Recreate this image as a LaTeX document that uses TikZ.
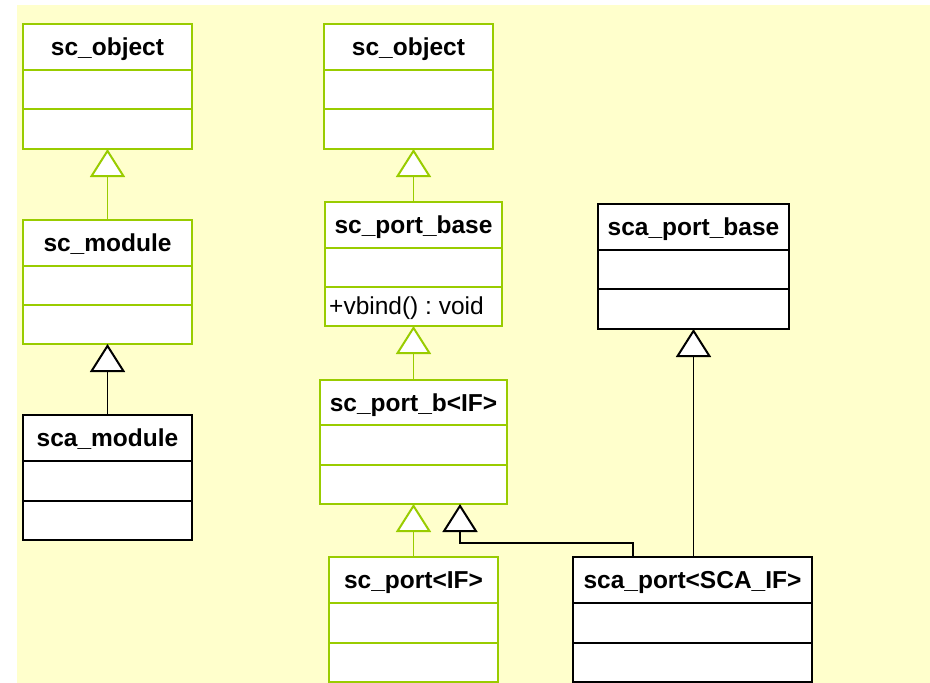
\documentclass[tikz,border=0pt]{standalone}
\usepackage{fontspec}
\setmainfont{Liberation Sans}
\usetikzlibrary{arrows.meta,calc}

\definecolor{umlgreen}{RGB}{153,204,0}
\definecolor{paper}{RGB}{255,255,204}

\tikzset{
  classbox/.style={rectangle, fill=white, line width=2pt, inner sep=0pt, outer sep=0pt},
  classname/.style={inner sep=0pt, anchor=base, font=\fontsize{24.5}{28}\selectfont\bfseries},
  member/.style={inner sep=0pt, anchor=base west, font=\fontsize{24.5}{28}\selectfont\frenchspacing},
  inherit/.style={line width=1.5pt, -{Triangle[length=28pt, width=35pt, fill=white, line width=2pt]}},
  greenlink/.style={inherit, draw=umlgreen},
  blacklink/.style={inherit, draw=black},
}

% class box: name, x1, y1, x2, y2, divider 1, divider 2, colour, class name
\newcommand{\umlclass}[9]{%
  \node[classbox, draw=#8, minimum width={(#4-#2)*1pt}, minimum height={(#5-#3)*1pt},
        anchor=north west] (#1) at (#2,#3) {};
  \draw[draw=#8, line width=2pt] (#2,#6) -- (#4,#6) (#2,#7) -- (#4,#7);
  \node[classname] (#1-name) at ({(#2+#4)/2},{(#3+#6)/2+8.8}) {#9};
}

\begin{document}
\begin{tikzpicture}[x=1pt, y=-1pt]
  \useasboundingbox (0,0) rectangle (930,683);
  \fill[paper] (17,5) rectangle (930,683);

  % left column
  \umlclass{objL}{23}{24}{192}{149}{70}{109}{umlgreen}{sc\_object}
  \umlclass{module}{23}{220}{192}{344}{266}{305}{umlgreen}{sc\_module}
  \umlclass{scamodule}{23}{415}{192}{540}{461}{501}{black}{sca\_module}

  % middle column
  \umlclass{objM}{324}{24}{493}{149}{70}{109}{umlgreen}{sc\_object}
  \umlclass{portbase}{325}{202}{502}{326}{248}{287}{umlgreen}{sc\_port\_base}
  \node[member] (vbind) at (329,314.5) {+vbind() : void};
  \umlclass{portb}{320}{380}{507}{504}{425}{465}{umlgreen}{sc\_port\_b<IF>}
  \umlclass{port}{329}{557}{498}{682}{603}{643}{umlgreen}{sc\_port<IF>}

  % right side
  \umlclass{scaportbase}{598}{204}{789}{329}{250}{289}{black}{sca\_port\_base}
  \umlclass{scaport}{573}{557}{812}{682}{603}{643}{black}{sca\_port<SCA\_IF>}

  % generalisations
  \draw[greenlink] (module.north) -- (objL.south);
  \draw[blacklink] (scamodule.north) -- (module.south);
  \draw[greenlink] (portbase.north) -- (portbase.north |- objM.south);
  \draw[greenlink] (portb.north) -- (portbase.south);
  \draw[greenlink] (port.north) -- (portb.south);
  \draw[blacklink] (scaport.north -| scaportbase.south) -- (scaportbase.south);
  \coordinate (scaportjoint) at ($(scaport.north west)+(60,0)$);
  \coordinate (portbtip) at ($(portb.south)+(46.5,0)$);
  \draw[blacklink] (scaportjoint) -- ++(0,-14) -| (portbtip);
\end{tikzpicture}
\end{document}
